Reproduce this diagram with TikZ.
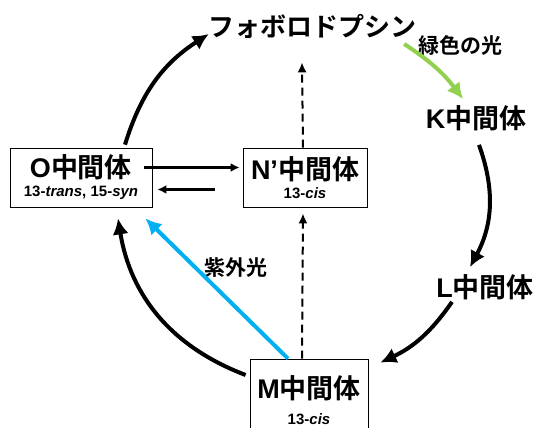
\documentclass[tikz,border=0pt]{standalone}
\usepackage{fontspec}
\setmainfont{Liberation Sans}
\newfontfamily\jp{Noto Sans CJK JP}[BoldFont={Noto Sans CJK JP Bold}]
\usetikzlibrary{arrows.meta}
\definecolor{lightgreen}{RGB}{146,208,80}
\definecolor{uvblue}{RGB}{0,176,240}
\tikzset{
  stage/.style={font=\fontsize{27}{30}\selectfont\bfseries, inner sep=0pt},
  stagebox/.style={draw, line width=0.8pt, inner sep=0pt, align=center, font=\bfseries},
  lightlabel/.style={font=\fontsize{21}{24}\selectfont\bfseries\jp, inner sep=0pt},
  cycle/.style={line width=4pt, -{Latex[length=16pt,width=16pt]}},
  link/.style={line width=2.2pt, -{Latex[length=9pt,width=9pt]}},
  thermal/.style={line width=2pt, dash pattern=on 8pt off 5pt, -{Latex[length=10pt,width=9pt]}},
}
\begin{document}
\begin{tikzpicture}[x=1pt, y=-1pt]
		%%%%% START %%%%%
		\useasboundingbox (0, 0) rectangle (539, 428);
		
		\node[stage, font=\fontsize{26}{30}\selectfont\bfseries\jp] (pho) at (312, 26) {フォボロドプシン};
		\node[stage] (kint) at (476, 118) {K{\jp 中間体}};
		\node[stage] (lint) at (485, 287) {L{\jp 中間体}};
		
		\node[stagebox, minimum width=142pt, minimum height=59pt] (oint) at (81, 177.5)
			{{\fontsize{27}{27}\selectfont O{\jp 中間体}}\\[5pt]{\fontsize{15}{15}\selectfont 13-\textit{trans}, 15-\textit{syn}}};
		\node[stagebox, minimum width=124pt, minimum height=59pt] (nint) at (305, 177.5)
			{{\fontsize{27}{27}\selectfont N’{\jp 中間体}}\\[5pt]{\fontsize{15}{15}\selectfont 13-\textit{cis}}};
		\node[stagebox, minimum width=118pt, minimum height=82pt] (mint) at (309, 400)
			{{\fontsize{27}{27}\selectfont M{\jp 中間体}}\\[12pt]{\fontsize{15}{15}\selectfont 13-\textit{cis}}};
		
		\node[lightlabel] (glabel) at (460, 45) {緑色の光};
		\node[lightlabel] (uvlabel) at (236, 268) {紫外光};
		
		% photocycle
		\draw[line width=4pt, lightgreen, -{Latex[length=16pt,width=16pt]}]
			([xshift=-12pt, yshift=-18pt]pho.east) to[bend left=10] ([xshift=-13pt, yshift=6pt]kint.north);
		\draw[cycle] ([xshift=3pt, yshift=-14pt]kint.south) to[bend left=24] ([xshift=-15pt, yshift=7pt]lint.north);
		\draw[cycle] ([xshift=-33pt, yshift=-2pt]lint.south) to[bend left=15] ([xshift=12pt, yshift=-4pt]mint.north east);
		\draw[cycle] ([xshift=-4pt, yshift=25pt]mint.west) to[bend left=30] ([xshift=37pt, yshift=-11pt]oint.south);
		\draw[cycle] ([xshift=44pt, yshift=3pt]oint.north) to[bend left=20] ([xshift=1pt, yshift=-8pt]pho.west);
		
		\draw[link] ([xshift=-8pt, yshift=10pt]oint.east) -- ([xshift=-3pt, yshift=10pt]nint.west);
		\draw[link] ([xshift=-28pt, yshift=-12pt]nint.west) -- ([xshift=5pt, yshift=-12pt]oint.east);
		
		\draw[line width=4pt, uvblue, -{Latex[length=16pt,width=16pt]}]
			([xshift=-21pt]mint.north) -- ([xshift=-7pt, yshift=-11pt]oint.south east);
		
		\draw[thermal] ([xshift=-7pt]mint.north) -- ([xshift=-2pt, yshift=-6pt]nint.south);
		\draw[thermal] ([xshift=-2pt]nint.north) -- ([xshift=-10pt, yshift=-24pt]pho.south);
		
		%%%%% END %%%%%
\end{tikzpicture}
\end{document}
